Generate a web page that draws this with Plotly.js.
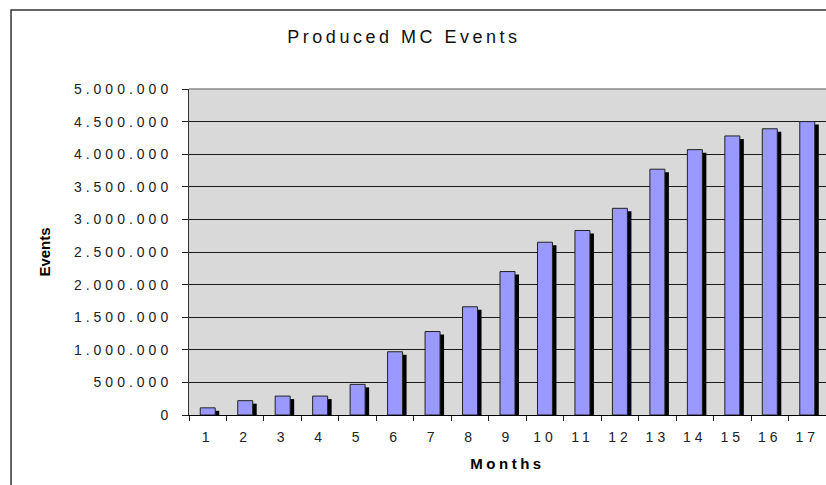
<!DOCTYPE html>
<html>
<head>
<meta charset="utf-8">
<script src="https://cdn.plot.ly/plotly-3.0.1.min.js"></script>
<style>
  html, body { margin: 0; padding: 0; background: #fff; }
  #chart { width: 826px; height: 485px; }
  .xtick text, .ytick text { letter-spacing: 4px; }
  .gtitle { letter-spacing: 3.5px; }
  .xtitle { letter-spacing: 3.5px; }
</style>
</head>
<body>
<div id="chart"></div>
<script>
// Data
const months = ["1","2","3","4","5","6","7","8","9","10","11","12","13","14","15","16","17"];
const events = [110000, 220000, 290000, 290000, 470000, 970000, 1280000, 1660000, 2200000,
                2650000, 2830000, 3170000, 3770000, 4070000, 4280000, 4390000, 4500000];
const yTickValues = [0, 500000, 1000000, 1500000, 2000000, 2500000, 3000000, 3500000, 4000000, 4500000, 5000000];

const FONT = "Liberation Sans, Arial, sans-serif";

const shadow = {
  type: "bar", x: months, y: events,
  base: -46000,
  width: 0.4, offset: -0.093,
  marker: { color: "#000000", line: { width: 0 } },
  hoverinfo: "skip", showlegend: false
};
const bars = {
  type: "bar", x: months, y: events,
  width: 0.4, offset: -0.2,
  marker: { color: "#9999ff", line: { color: "#222222", width: 1 } },
  name: "Events", showlegend: false
};

const layout = {
  width: 826, height: 485,
  margin: { l: 189, r: 0, t: 89, b: 70, pad: 0 },
  paper_bgcolor: "#ffffff",
  plot_bgcolor: "#d9d9d9",
  separators: ",.",
  barmode: "overlay",
  font: { family: FONT, size: 14, color: "#222222" },
  title: {
    text: "Produced MC Events",
    font: { family: FONT, size: 18, color: "#111111" },
    x: 0.489, xref: "container", xanchor: "center",
    y: 0.924, yref: "container", yanchor: "middle"
  },
  xaxis: {
    type: "category",
    range: [-0.5, 16.5],
    showline: true, linecolor: "#000000", linewidth: 1,
    ticks: "outside", tickson: "boundaries", ticklen: 5, tickcolor: "#222222",
    ticklabelstandoff: 9,
    showgrid: false, zeroline: false,
    tickfont: { family: FONT, size: 14, color: "#222222" },
    title: { text: "<b>Months</b>", font: { family: FONT, size: 15, color: "#000000" }, standoff: 14 }
  },
  yaxis: {
    range: [0, 5000000],
    tickvals: yTickValues,
    tickformat: ",d",
    showline: true, linecolor: "#333333", linewidth: 1,
    ticks: "outside", ticklen: 6, tickcolor: "#222222",
    ticklabelstandoff: 7,
    showgrid: true, gridcolor: "#1a1a1a", gridwidth: 1,
    zeroline: false,
    tickfont: { family: FONT, size: 14, color: "#222222" },
    title: { text: "<b>Events</b>", font: { family: FONT, size: 15, color: "#000000" }, standoff: 19 }
  },
  shapes: [
    { type: "line", xref: "paper", yref: "paper", x0: 0, x1: 1, y0: 1, y1: 1,
      line: { color: "#8a8a8a", width: 1.5 }, layer: "above" },
    { type: "rect", xref: "paper", yref: "paper", x0: -0.2794, x1: 1.01, y0: -0.25, y1: 1.2423,
      line: { color: "#333333", width: 1.5 }, fillcolor: "rgba(0,0,0,0)", layer: "below" }
  ]
};

Plotly.newPlot("chart", [shadow, bars], layout, { displayModeBar: false, staticPlot: true });
</script>
</body>
</html>
